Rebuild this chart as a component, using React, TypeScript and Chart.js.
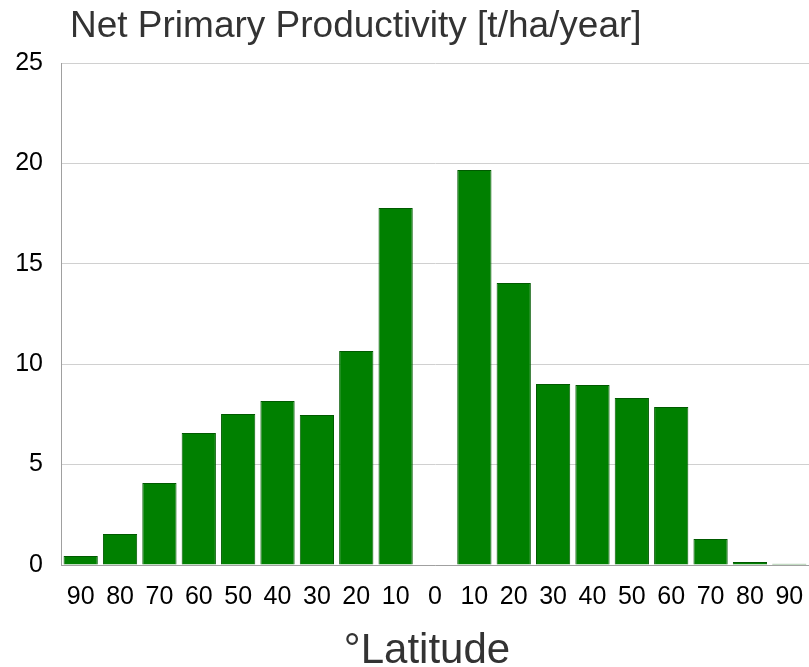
import React, { useEffect, useRef } from "react";
import { Chart, registerables } from "chart.js";

Chart.register(...registerables);

// Latitude bands from south pole to north pole
const latitudes = ["90", "80", "70", "60", "50", "40", "30", "20", "10", "0", "10", "20", "30", "40", "50", "60", "70", "80", "90"];
// Net primary productivity per band, t/ha/year
const productivity = [0.45, 1.55, 4.08, 6.57, 7.52, 8.17, 7.47, 10.66, 17.78, 0, 19.67, 14.04, 9.01, 8.96, 8.32, 7.87, 1.29, 0.15, 0.06];
const yTicks = [0, 5, 10, 15, 20, 25];

const chartTitle = "Net Primary Productivity [t/ha/year]";
const xTitle = "°Latitude";

const FONT = "'Liberation Sans', Arial, sans-serif";

const titlesPlugin = {
  id: "titles",
  afterDraw(chart: any) {
    const { ctx, chartArea } = chart;
    ctx.save();
    ctx.fillStyle = "#333333";
    ctx.textBaseline = "alphabetic";
    ctx.textAlign = "left";
    ctx.font = `37px ${FONT}`;
    ctx.fillText(chartTitle, 70, 37);
    ctx.textAlign = "center";
    ctx.font = `42px ${FONT}`;
    ctx.fillText(xTitle, (chartArea.left + chartArea.right) / 2 - 8, 663);
    ctx.restore();
  },
};

export default function App() {
  const ref = useRef<HTMLCanvasElement | null>(null);

  useEffect(() => {
    if (!ref.current) return;
    const chart = new Chart(ref.current, {
      type: "bar",
      data: {
        labels: latitudes,
        datasets: [
          {
            data: productivity,
            backgroundColor: "#008000",
            borderColor: "#005a00",
            borderWidth: 1,
            barPercentage: 0.87,
            categoryPercentage: 1,
          },
        ],
      },
      options: {
        animation: false,
        responsive: false,
        maintainAspectRatio: false,
        layout: { padding: { top: 63, left: 0, right: 0, bottom: 0 } },
        plugins: {
          legend: { display: false },
          title: { display: false },
          tooltip: { enabled: false },
        },
        scales: {
          x: {
            grid: { display: false, drawTicks: false },
            border: { display: true, color: "#a0a0a0", width: 1 },
            ticks: {
              color: "#000000",
              font: { family: FONT, size: 25 },
              padding: 17,
              maxRotation: 0,
              autoSkip: false,
            },
            afterFit(scale: any) {
              scale.height = 102;
              scale.paddingLeft = 0;
              scale.paddingRight = 0;
            },
          },
          y: {
            min: 0,
            max: 25,
            afterBuildTicks(scale: any) {
              scale.ticks = yTicks.map((v) => ({ value: v }));
            },
            grid: { color: "#d0d0d0", drawTicks: false },
            border: { display: true, color: "#a0a0a0", width: 1 },
            ticks: {
              color: "#000000",
              font: { family: FONT, size: 25 },
              padding: 18,
            },
            afterFit(scale: any) {
              scale.width = 61;
              scale.paddingTop = 0;
              scale.paddingBottom = 0;
            },
          },
        },
      },
      plugins: [titlesPlugin],
    });
    return () => chart.destroy();
  }, []);

  return (
    <div style={{ position: "fixed", left: 0, top: 0, width: 809, height: 667, background: "#ffffff" }}>
      <canvas ref={ref} width={809} height={667} style={{ display: "block" }} />
    </div>
  );
}
